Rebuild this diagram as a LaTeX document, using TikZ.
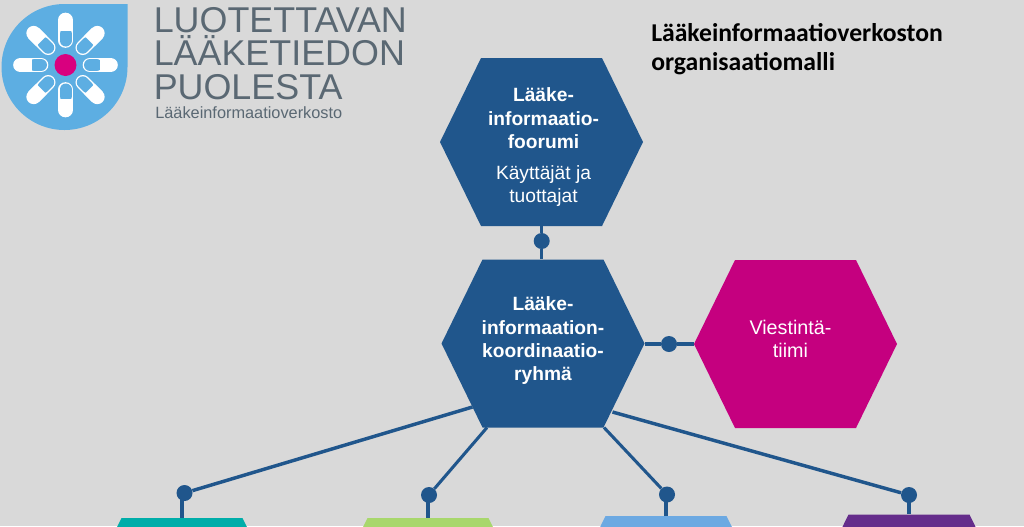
\documentclass[tikz,border=0pt]{standalone}
\usepackage{fontspec}
\setmainfont{Liberation Sans}
\newfontfamily\titlefont{Carlito}
\usetikzlibrary{calc}
\definecolor{bgc}{HTML}{D9D9D9}
\definecolor{navy}{HTML}{20568C}
\definecolor{magentac}{HTML}{C5007F}
\definecolor{tealc}{HTML}{00ADA9}
\definecolor{greenc}{HTML}{A8D76C}
\definecolor{skyc}{HTML}{6CA9E2}
\definecolor{purplec}{HTML}{652D8B}
\definecolor{logoblue}{HTML}{5DAEE2}
\definecolor{logopink}{HTML}{D9007F}
\definecolor{logotext}{HTML}{5A6873}
\tikzset{
  hexbox/.style={minimum width=152.25pt,minimum height=126pt,inner sep=0pt,text=white,align=center,
    font=\fontsize{14.4}{17.5}\selectfont\bfseries,
    path picture={\fill[#1]
      (path picture bounding box.west)
      -- ($(path picture bounding box.north west)+(41,0)$)
      -- ($(path picture bounding box.north east)+(-41,0)$)
      -- (path picture bounding box.east)
      -- ($(path picture bounding box.south east)+(-41,0)$)
      -- ($(path picture bounding box.south west)+(41,0)$)
      -- cycle;}},
  dotn/.style={circle,fill=navy,minimum size=12pt,inner sep=0pt},
  linkl/.style={navy,line width=2.6pt},
  thinlink/.style={navy,line width=2.3pt},
  brand/.style={anchor=base west,inner sep=0pt,text=logotext,font=\fontsize{26.9}{26}\selectfont},
  titlet/.style={anchor=base west,inner sep=0pt,text=black,font=\titlefont\fontsize{19.25}{22}\selectfont\bfseries}
}
\begin{document}
\begin{tikzpicture}[x=0.75pt,y=-0.75pt]
\useasboundingbox (0,0) rectangle (1024,526);
\fill[bgc] (0,0) rectangle (1024,526);
% logo
\fill[logoblue] (127.5,4) -- (127.5,67) arc[start angle=0,end angle=270,radius=63] -- cycle;
\foreach \a in {0,45,...,315}{
  \begin{scope}[shift={(65.5,65)},rotate=\a]
    \draw[white,line width=11pt,line cap=round] (24.5,0) -- (45,0);
    \draw[logoblue,line width=9pt,line cap=round] (24.5,0) -- (31,0);
    \draw[white,line width=11pt] (34,0) -- (45,0);
  \end{scope}
}
\fill[logopink] (65.5,65) circle[radius=11];
\node[brand] (b1) at (153.5,32) {LUOTETTAVAN};
\node[brand] (b2) at (153.5,65.5) {LÄÄKETIEDON};
\node[brand] (b3) at (153.5,99) {PUOLESTA};
\node[anchor=base west,inner sep=0pt,text=logotext,font=\fontsize{12.25}{14}\selectfont] (b4) at (155,118.5) {Lääkeinformaatioverkosto};
% title
\node[titlet] (t1) at (651,41.5) {Lääkeinformaatioverkoston};
\node[titlet] (t2) at (651,70.5) {organisaatiomalli};
% hexagons
\node[hexbox=navy] (h1) at (541.5,142) {\hspace*{3pt}\rule{0pt}{18pt}Lääke-\\\hspace*{3pt}informaatio-\\\hspace*{3pt}foorumi\\[5.5pt]{\hspace*{3pt}\fontsize{14.4}{17.5}\selectfont\mdseries Käyttäjät ja}\\{\hspace*{3pt}\fontsize{14.4}{17.5}\selectfont\mdseries tuottajat}};
\node[hexbox=navy] (h2) at (543,343.5) {Lääke-\\informaation-\\koordinaatio-\\ryhmä\rule[-7pt]{0pt}{0pt}};
\node[hexbox=magentac,font=\fontsize{14.8}{17.5}\selectfont] (h3) at (795.5,344) {\rule{0pt}{10.5pt}Viestintä-\hspace*{7.5pt}\\tiimi\hspace*{7.5pt}\rule[-7.5pt]{0pt}{0pt}};
\node[hexbox=tealc] (c1) at (182,602) {};
\node[hexbox=greenc] (c2) at (428,602) {};
\node[hexbox=skyc] (c3) at (666,600) {};
\node[hexbox=purplec] (c4) at (909,598.5) {};
% dots
\node[dotn] (d1) at (541.7,241) {};
\node[dotn] (d2) at (669,344) {};
\node[dotn] (d3) at (184.5,493) {};
\node[dotn] (d4) at (429,495) {};
\node[dotn] (d5) at (667,494.5) {};
\node[dotn] (d6) at (909,495) {};
% anchor points on the lower sloped sides of the coordination hexagon
\coordinate (s1) at ($(h2.center)+(-70.5,63.5)$);
\coordinate (s2) at ($(h2.center)+(-56,84)$);
\coordinate (s3) at ($(h2.center)+(61,84)$);
\coordinate (s4) at ($(h2.center)+(69.5,68.5)$);
% connectors
\draw[linkl] (d1 |- h1.south) -- (d1) -- (d1 |- h2.north);
\draw[linkl] (h2.east |- d2) -- (d2) -- (h3.west);
\draw[linkl] (s1) -- (d3);
\draw[thinlink] (s2) -- (d4);
\draw[thinlink] (s3) -- (d5);
\draw[linkl] (s4) -- (d6);
\draw[thinlink] (c1.north) -- (c1.north |- d3);
\draw[thinlink] (c2.north) -- (c2.north |- d4);
\draw[thinlink] (c3.north) -- (c3.north |- d5);
\draw[thinlink] (c4.north) -- (c4.north |- d6);
\end{tikzpicture}
\end{document}
